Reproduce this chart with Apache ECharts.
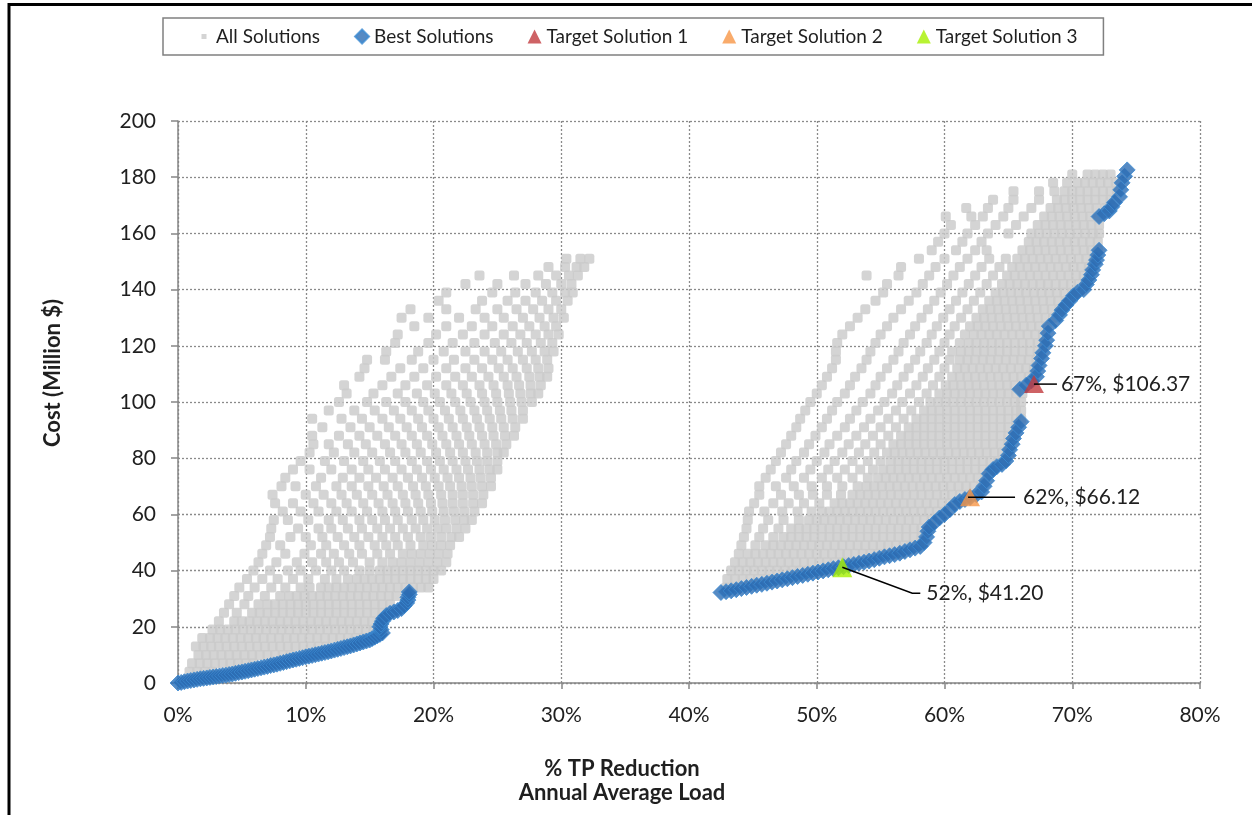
<!DOCTYPE html>
<html>
<head>
<meta charset="utf-8">
<script src="https://cdn.jsdelivr.net/npm/echarts@6/dist/echarts.min.js"></script>
<style>
html,body{margin:0;padding:0;background:#fff;}
#chart{width:1252px;height:815px;}
</style>
</head>
<body>
<div id="chart"></div>
<script>
// ---------------- DATA ----------------
// x axis ticks (% TP reduction) and y axis ticks (cost, million $)
const xTicks = [0, 10, 20, 30, 40, 50, 60, 70, 80];
const yTicks = [0, 20, 40, 60, 80, 100, 120, 140, 160, 180, 200];

// All Solutions, left cluster: each row = [cost, x1, x2, ...] (x in %)
const allSolutionsLeft = [
  [4, 0.9, 1.5, 2.1, 2.7],
  [7, 1.1, 1.7, 2.3, 2.9, 3.5, 4.1, 4.7, 5.3, 5.9],
  [10, 1.6, 2.2, 2.8, 3.4, 4.0, 4.6, 5.2, 5.8, 6.4, 7.0, 7.6, 8.2, 8.8],
  [13, 1.4, 2.0, 2.6, 3.2, 3.8, 4.4, 5.0, 5.6, 6.2, 6.8, 7.4, 8.0, 8.6, 9.2, 9.8, 10.4, 11.0, 11.6],
  [16, 1.9, 2.5, 3.1, 3.7, 4.3, 4.9, 5.5, 6.1, 6.7, 7.3, 7.9, 8.5, 9.1, 9.7, 10.3, 10.9, 11.5, 12.1, 12.7, 13.3, 13.9, 14.5],
  [19, 2.7, 3.3, 3.9, 4.5, 5.1, 5.7, 6.3, 6.9, 7.5, 8.1, 8.7, 9.3, 9.9, 10.5, 11.1, 11.7, 12.3, 12.9, 13.5, 14.1, 14.7, 15.3],
  [22, 3.2, 4.4, 5.0, 5.6, 6.2, 6.8, 7.4, 8.0, 8.6, 9.2, 9.8, 10.4, 11.0, 11.6, 12.2, 12.8, 13.4, 14.0, 14.6, 15.2, 15.8],
  [25, 3.6, 4.6, 5.8, 6.4, 7.0, 7.6, 8.2, 8.8, 9.4, 10.0, 10.6, 11.2, 11.8, 12.4, 13.0, 13.6, 14.2, 14.8, 15.4, 16.0],
  [28, 4.0, 5.2, 6.3, 7.0, 7.6, 8.2, 8.8, 9.4, 10.0, 10.6, 11.2, 11.8, 12.4, 13.0, 13.6, 14.2, 14.8, 15.4, 16.0, 16.6],
  [31, 4.4, 5.5, 6.8, 8.0, 8.7, 9.3, 9.9, 10.5, 11.1, 11.7, 12.3, 12.9, 13.5, 14.1, 14.7, 15.3, 15.9, 16.5, 17.1],
  [34, 4.8, 6.0, 7.3, 8.4, 9.6, 10.3, 11.2, 11.8, 12.4, 13.0, 13.6, 14.2, 14.8, 15.4, 16.0, 16.6, 17.2, 17.8, 18.4, 19.0, 19.6],
  [37, 5.4, 6.6, 7.8, 9.0, 10.2, 11.5, 12.4, 13.3, 14.0, 14.6, 15.2, 15.8, 16.4, 17.0, 17.6, 18.2, 18.8, 19.4, 20.0],
  [40, 5.9, 7.2, 8.6, 9.6, 10.8, 12.0, 13.0, 14.2, 15.0, 15.8, 16.4, 17.0, 17.6, 18.2, 18.8, 19.4, 20.0, 20.6],
  [43, 6.3, 7.7, 9.3, 10.5, 11.6, 12.6, 13.7, 15.0, 16.0, 16.8, 17.5, 18.2, 18.9, 19.6, 20.3, 21.0],
  [46, 6.6, 8.4, 9.9, 11.2, 12.2, 13.4, 14.4, 15.6, 16.6, 17.6, 18.3, 19.0, 19.7, 20.4, 21.1],
  [49, 6.9, 8.0, 10.4, 11.6, 13.0, 14.2, 15.4, 16.3, 17.2, 18.2, 19.2, 19.9, 20.6, 21.3],
  [52, 7.2, 8.8, 10.0, 11.3, 12.5, 13.8, 14.9, 16.0, 17.0, 18.0, 19.0, 19.8, 20.6, 21.4, 22.0],
  [55, 7.3, 9.4, 11.0, 12.0, 13.3, 14.4, 15.6, 16.6, 17.6, 18.6, 19.5, 20.3, 21.0, 21.8, 22.5],
  [58, 7.5, 8.6, 10.2, 11.8, 12.9, 14.2, 15.2, 16.2, 17.2, 18.3, 19.2, 20.1, 20.9, 21.7, 22.4, 23.0],
  [61, 8.2, 9.6, 11.0, 12.4, 13.6, 14.8, 16.0, 17.0, 18.0, 19.0, 19.9, 20.8, 21.6, 22.4, 23.2],
  [64, 7.6, 9.0, 10.6, 12.0, 13.2, 14.5, 15.7, 16.8, 17.8, 18.8, 19.8, 20.7, 21.5, 22.3, 23.1, 23.8],
  [67, 7.4, 10.0, 11.4, 12.8, 14.0, 15.2, 16.4, 17.6, 18.6, 19.6, 20.6, 21.5, 22.3, 23.1, 23.9],
  [70, 8.1, 9.2, 10.8, 12.4, 13.6, 14.9, 16.1, 17.2, 18.4, 19.4, 20.4, 21.3, 22.2, 23.0, 23.8, 24.5],
  [73, 8.4, 11.2, 12.9, 14.2, 15.5, 16.8, 18.0, 19.1, 20.1, 21.1, 22.0, 22.9, 23.7, 24.5],
  [76, 9.0, 10.3, 12.0, 13.6, 14.9, 16.2, 17.5, 18.7, 19.8, 20.8, 21.8, 22.7, 23.6, 24.4, 25.0],
  [79, 9.6, 11.5, 13.0, 14.5, 15.8, 17.0, 18.3, 19.5, 20.5, 21.5, 22.5, 23.4, 24.2, 25.0],
  [82, 10.3, 12.2, 13.8, 15.2, 16.6, 17.8, 19.0, 20.2, 21.3, 22.3, 23.3, 24.2, 25.0, 25.5],
  [85, 10.6, 11.8, 13.3, 14.7, 16.2, 17.5, 18.7, 19.9, 21.0, 22.0, 23.0, 24.0, 24.9, 25.7],
  [88, 10.5, 12.6, 14.2, 15.6, 17.0, 18.3, 19.5, 20.7, 21.8, 22.8, 23.8, 24.7, 25.6, 26.3],
  [91, 11.3, 13.5, 15.0, 16.5, 17.9, 19.1, 20.4, 21.5, 22.6, 23.6, 24.6, 25.5, 26.4],
  [94, 10.5, 12.8, 14.4, 16.0, 17.4, 18.8, 20.0, 21.2, 22.3, 23.4, 24.4, 25.3, 26.2, 27.0],
  [97, 11.8, 13.8, 15.4, 16.9, 18.3, 19.6, 20.9, 22.1, 23.2, 24.2, 25.2, 26.1, 27.0],
  [100, 12.6, 14.8, 16.3, 17.8, 19.2, 20.5, 21.7, 22.9, 24.0, 25.0, 26.0, 26.9, 27.7],
  [103, 13.2, 15.3, 17.2, 18.7, 20.1, 21.4, 22.6, 23.8, 24.9, 25.9, 26.8, 27.6, 28.2],
  [106, 13.0, 16.0, 17.8, 19.5, 21.0, 22.3, 23.6, 24.7, 25.8, 26.7, 27.6, 28.4],
  [109, 14.2, 16.7, 18.5, 20.2, 21.7, 23.0, 24.3, 25.5, 26.5, 27.5, 28.3, 28.9],
  [112, 14.6, 17.4, 19.2, 21.0, 22.5, 23.8, 25.1, 26.2, 27.3, 28.2, 29.0],
  [115, 14.8, 16.2, 18.3, 20.0, 21.6, 23.2, 24.6, 25.8, 27.0, 28.0, 28.9],
  [118, 16.3, 18.8, 20.8, 22.5, 24.0, 25.3, 26.6, 27.7, 28.7, 29.4],
  [121, 17.0, 19.6, 21.5, 23.2, 24.8, 26.1, 27.3, 28.4, 29.3],
  [124, 17.2, 20.2, 22.3, 24.0, 25.5, 26.8, 28.0, 29.0, 29.8],
  [127, 18.5, 21.0, 23.0, 24.6, 26.2, 27.5, 28.7, 29.6],
  [130, 17.5, 19.6, 22.0, 24.0, 25.5, 27.0, 28.3, 29.4, 30.2],
  [133, 18.2, 21.0, 23.3, 25.0, 26.5, 27.8, 29.0, 30.0],
  [136, 20.4, 23.8, 25.8, 27.2, 28.5, 29.6, 30.5],
  [139, 21.0, 24.6, 26.4, 28.0, 29.3, 30.3, 30.9],
  [142, 22.5, 25.0, 27.2, 28.8, 30.0, 30.8],
  [145, 23.6, 26.3, 28.2, 29.6, 30.6, 31.3],
  [148, 29.0, 30.3, 31.2, 31.8],
  [151, 30.4, 31.5, 32.2]
];

// All Solutions, right cluster: each row = [cost, x1, x2, ...]
const allSolutionsRight = [
  [34, 42.9, 43.5],
  [37, 43.0, 43.6, 44.2, 44.8, 45.4, 46.0, 46.6],
  [40, 43.3, 43.9, 44.5, 45.1, 45.7, 46.3, 46.9, 47.5, 48.1, 48.7, 49.3, 49.9, 50.5],
  [43, 43.6, 44.2, 44.8, 45.4, 46.0, 46.6, 47.2, 47.8, 48.4, 49.0, 49.6, 50.2, 50.8, 51.4, 52.0, 52.6, 53.2, 53.8],
  [46, 43.9, 44.6, 45.2, 45.8, 46.4, 47.0, 47.6, 48.2, 48.8, 49.4, 50.0, 50.6, 51.2, 51.8, 52.4, 53.0, 53.6, 54.2, 54.8, 55.4, 56.0, 56.6],
  [49, 44.1, 45.2, 46.0, 46.6, 47.2, 47.8, 48.4, 49.0, 49.6, 50.2, 50.8, 51.4, 52.0, 52.6, 53.2, 53.8, 54.4, 55.0, 55.6, 56.2, 56.8, 57.4, 58.0],
  [52, 44.3, 45.5, 46.6, 47.4, 48.0, 48.6, 49.2, 49.8, 50.4, 51.0, 51.6, 52.2, 52.8, 53.4, 54.0, 54.6, 55.2, 55.8, 56.4, 57.0, 57.6, 58.2],
  [55, 44.5, 45.8, 47.0, 48.0, 48.6, 49.2, 49.8, 50.4, 51.0, 51.6, 52.2, 52.8, 53.4, 54.0, 54.6, 55.2, 55.8, 56.4, 57.0, 57.6, 58.2, 58.8],
  [58, 44.6, 46.2, 47.4, 48.6, 49.4, 50.0, 50.6, 51.2, 51.8, 52.4, 53.0, 53.6, 54.2, 54.8, 55.4, 56.0, 56.6, 57.2, 57.8, 58.4, 59.0],
  [61, 44.7, 45.9, 47.3, 48.5, 49.6, 50.4, 51.0, 51.6, 52.2, 52.8, 53.4, 54.0, 54.6, 55.2, 55.8, 56.4, 57.0, 57.6, 58.2, 58.8, 59.4, 60.0],
  [64, 45.1, 46.6, 47.8, 49.0, 50.2, 51.4, 52.0, 52.6, 53.2, 53.8, 54.4, 55.0, 55.6, 56.2, 56.8, 57.4, 58.0, 58.6, 59.2, 59.8, 60.4, 60.9],
  [67, 45.5, 47.2, 48.6, 49.7, 50.8, 51.9, 52.8, 53.4, 54.0, 54.6, 55.2, 55.8, 56.4, 57.0, 57.6, 58.2, 58.8, 59.4, 60.0, 60.6, 61.2, 61.8, 62.4],
  [70, 45.5, 46.8, 48.2, 49.6, 50.8, 52.0, 53.2, 53.9, 54.5, 55.1, 55.7, 56.3, 56.9, 57.5, 58.1, 58.7, 59.3, 59.9, 60.5, 61.1, 61.7, 62.3, 62.9],
  [73, 46.0, 47.6, 49.0, 50.4, 51.6, 52.8, 54.0, 54.8, 55.4, 56.0, 56.6, 57.2, 57.8, 58.4, 59.0, 59.6, 60.2, 60.8, 61.4, 62.0, 62.6, 63.2],
  [76, 46.4, 48.0, 49.5, 50.9, 52.2, 53.4, 54.4, 55.2, 55.8, 56.4, 57.0, 57.6, 58.2, 58.8, 59.4, 60.0, 60.6, 61.2, 61.8, 62.4, 63.0, 63.6],
  [79, 46.8, 48.4, 50.0, 51.4, 52.8, 54.0, 55.0, 55.8, 56.4, 57.0, 57.6, 58.2, 58.8, 59.4, 60.0, 60.6, 61.2, 61.8, 62.4, 63.0, 63.6, 64.2, 64.8],
  [82, 47.2, 49.0, 50.6, 52.0, 53.3, 54.5, 55.5, 56.1, 56.7, 57.3, 57.9, 58.5, 59.1, 59.7, 60.3, 60.9, 61.5, 62.1, 62.7, 63.3, 63.9, 64.5, 65.1],
  [85, 47.6, 49.4, 51.0, 52.5, 53.8, 55.0, 56.0, 56.6, 57.2, 57.8, 58.4, 59.0, 59.6, 60.2, 60.8, 61.4, 62.0, 62.6, 63.2, 63.8, 64.4, 65.0],
  [88, 48.0, 49.9, 51.6, 53.1, 54.4, 55.6, 56.6, 57.2, 57.8, 58.4, 59.0, 59.6, 60.2, 60.8, 61.4, 62.0, 62.6, 63.2, 63.8, 64.4, 65.0, 65.5],
  [91, 48.4, 50.4, 52.2, 53.7, 55.0, 56.2, 57.2, 57.8, 58.4, 59.0, 59.6, 60.2, 60.8, 61.4, 62.0, 62.6, 63.2, 63.8, 64.4, 65.0, 65.6],
  [94, 48.7, 50.8, 52.6, 54.2, 55.6, 56.8, 57.8, 58.4, 59.0, 59.6, 60.2, 60.8, 61.4, 62.0, 62.6, 63.2, 63.8, 64.4, 65.0, 65.6, 66.0],
  [97, 49.1, 51.2, 53.1, 54.8, 56.2, 57.4, 58.4, 59.0, 59.6, 60.2, 60.8, 61.4, 62.0, 62.6, 63.2, 63.8, 64.4, 65.0, 65.6, 66.0],
  [100, 49.5, 51.6, 53.6, 55.3, 56.7, 58.0, 58.9, 59.5, 60.1, 60.7, 61.3, 61.9, 62.5, 63.1, 63.7, 64.3, 64.9, 65.5, 66.0],
  [103, 50.0, 52.2, 54.2, 55.9, 57.3, 58.6, 59.6, 60.2, 60.8, 61.4, 62.0, 62.6, 63.2, 63.8, 64.4, 65.0, 65.6, 66.1],
  [106, 50.4, 52.6, 54.6, 56.3, 57.8, 59.1, 60.1, 60.7, 61.3, 61.9, 62.5, 63.1, 63.7, 64.3, 64.9, 65.5, 66.1],
  [109, 50.8, 53.0, 55.0, 56.8, 58.3, 59.6, 60.6, 61.2, 61.8, 62.4, 63.0, 63.6, 64.2, 64.8, 65.4, 66.0, 66.6, 67.0],
  [112, 51.2, 53.5, 55.5, 57.2, 58.7, 60.0, 61.0, 61.6, 62.2, 62.8, 63.4, 64.0, 64.6, 65.2, 65.8, 66.4, 67.0],
  [115, 51.5, 53.9, 56.0, 57.7, 59.2, 60.4, 61.2, 61.8, 62.4, 63.0, 63.6, 64.2, 64.8, 65.4, 66.0, 66.6, 67.2],
  [118, 51.5, 54.2, 56.4, 58.1, 59.6, 60.6, 61.3, 61.9, 62.5, 63.1, 63.7, 64.3, 64.9, 65.5, 66.1, 66.7, 67.3],
  [121, 51.6, 54.6, 56.8, 58.6, 60.0, 61.2, 61.9, 62.5, 63.1, 63.7, 64.3, 64.9, 65.5, 66.1, 66.7, 67.3, 67.8],
  [124, 52.0, 55.0, 57.3, 59.0, 60.4, 61.6, 62.3, 62.9, 63.5, 64.1, 64.7, 65.3, 65.9, 66.5, 67.1, 67.7],
  [127, 52.6, 55.5, 57.7, 59.4, 60.8, 62.0, 62.6, 63.2, 63.8, 64.4, 65.0, 65.6, 66.2, 66.8, 67.4, 68.0],
  [130, 53.2, 56.0, 58.2, 59.9, 61.3, 62.5, 63.1, 63.7, 64.3, 64.9, 65.5, 66.1, 66.7, 67.3, 67.9, 68.5],
  [133, 53.8, 56.6, 58.7, 60.4, 61.8, 63.0, 63.6, 64.2, 64.8, 65.4, 66.0, 66.6, 67.2, 67.8, 68.4, 69.0],
  [136, 54.6, 57.2, 59.2, 60.9, 62.3, 63.5, 64.1, 64.7, 65.3, 65.9, 66.5, 67.1, 67.7, 68.3, 68.9, 69.5],
  [139, 55.2, 57.8, 59.7, 61.4, 62.8, 64.0, 64.6, 65.2, 65.8, 66.4, 67.0, 67.6, 68.2, 68.8, 69.4, 70.0],
  [142, 55.5, 58.3, 60.2, 61.9, 63.3, 64.5, 65.1, 65.7, 66.3, 66.9, 67.5, 68.1, 68.7, 69.3, 69.9, 70.5, 71.0],
  [145, 53.9, 56.4, 58.8, 60.7, 62.4, 63.8, 64.9, 65.5, 66.1, 66.7, 67.3, 67.9, 68.5, 69.1, 69.7, 70.3, 70.9],
  [148, 56.6, 59.3, 61.2, 62.9, 64.3, 65.3, 65.9, 66.5, 67.1, 67.7, 68.3, 68.9, 69.5, 70.1, 70.7, 71.3],
  [151, 58.0, 60.0, 61.8, 63.5, 64.8, 65.7, 66.3, 66.9, 67.5, 68.1, 68.7, 69.3, 69.9, 70.5, 71.1, 71.7],
  [154, 59.0, 60.9, 62.4, 63.3, 66.1, 66.7, 67.3, 67.9, 68.5, 69.1, 69.7, 70.3, 70.9, 71.5, 72.0],
  [157, 59.5, 61.4, 62.9, 66.6, 67.2, 67.8, 68.4, 69.0, 69.6, 70.2, 70.8, 71.4, 72.0],
  [160, 60.0, 61.8, 63.4, 65.0, 66.8, 67.4, 68.0, 68.6, 69.2, 69.8, 70.4, 71.0, 71.6, 72.1],
  [163, 60.5, 62.4, 64.0, 65.6, 67.3, 67.9, 68.5, 69.1, 69.7, 70.3, 70.9, 71.5, 72.1],
  [166, 60.1, 62.1, 63.0, 64.6, 66.2, 67.8, 68.4, 69.0, 69.6, 70.2, 70.8, 71.4, 72.0],
  [169, 61.7, 63.4, 65.0, 66.8, 68.3, 68.9, 69.5, 70.1, 70.7, 71.3, 71.9, 72.6],
  [172, 63.8, 65.4, 67.4, 68.8, 69.4, 70.0, 70.6, 71.2, 71.8, 72.4, 73.0],
  [175, 65.4, 67.4, 68.6, 69.4, 70.0, 70.6, 71.2, 71.8, 72.4, 73.0, 73.5],
  [178, 68.5, 69.6, 70.4, 71.0, 71.6, 72.2, 72.8, 73.4],
  [181, 70.0, 71.2, 71.8, 72.4, 73.0]
];

// Best Solutions (Pareto front), [x %, cost]
const bestSolutionsLeft = [
  [0, 0], [0.25, 0.2], [0.5, 0.45], [0.75, 0.7], [1.0, 0.9], [1.25, 1.1], [1.5, 1.3], [1.75, 1.5],
  [2.0, 1.65], [2.25, 1.8], [2.5, 2.0], [2.75, 2.15], [3.0, 2.3], [3.25, 2.5], [3.5, 2.65], [3.75, 2.8],
  [4.0, 3.0], [4.25, 3.2], [4.5, 3.45], [4.75, 3.7], [5.0, 3.9], [5.25, 4.15], [5.5, 4.4], [5.75, 4.65],
  [6.0, 4.9], [6.25, 5.15], [6.5, 5.4], [6.75, 5.65], [7.0, 5.9], [7.25, 6.2], [7.5, 6.45], [7.75, 6.7],
  [8.0, 7.0], [8.25, 7.3], [8.5, 7.6], [8.75, 7.9], [9.0, 8.2], [9.25, 8.45], [9.5, 8.75], [9.75, 9.0],
  [10.0, 9.3], [10.25, 9.55], [10.5, 9.8], [10.75, 10.05], [11.0, 10.3], [11.25, 10.6], [11.5, 10.85],
  [11.75, 11.1], [12.0, 11.4], [12.25, 11.7], [12.5, 12.0], [12.75, 12.3], [13.0, 12.6], [13.25, 12.9],
  [13.5, 13.2], [13.75, 13.55], [14.0, 13.9], [14.25, 14.25], [14.5, 14.6], [14.75, 14.95], [15.0, 15.3],
  [15.2, 15.8], [15.4, 16.3], [15.6, 16.8], [15.8, 17.3], [16.0, 17.8], [15.9, 19.0], [15.8, 20.0],
  [15.9, 21.0], [16.0, 22.0], [16.1, 23.0], [16.3, 24.0], [16.6, 24.8], [16.9, 25.3], [17.2, 25.8],
  [17.5, 26.5], [17.7, 27.5], [17.9, 28.5], [18.0, 29.5], [18.0, 30.5], [18.1, 31.5], [18.1, 32.4]
];
const bestSolutionsRight = [
  [42.5, 32.2], [42.9, 32.5], [43.3, 32.8], [43.7, 33.2], [44.1, 33.6], [44.5, 34.0], [44.9, 34.4],
  [45.3, 34.8], [45.7, 35.1], [46.1, 35.5], [46.5, 35.9], [46.9, 36.3], [47.3, 36.7], [47.7, 37.1],
  [48.1, 37.5], [48.5, 37.9], [48.9, 38.3], [49.3, 38.7], [49.7, 39.1], [50.1, 39.5], [50.5, 39.9],
  [50.9, 40.3], [51.3, 40.7], [51.7, 41.0], [52.1, 41.4], [52.5, 41.8], [52.9, 42.2], [53.3, 42.6],
  [53.7, 43.0], [54.1, 43.4], [54.5, 43.9], [54.9, 44.4], [55.3, 44.9], [55.7, 45.3], [56.1, 45.7],
  [56.5, 46.2], [56.9, 46.8], [57.3, 47.4], [57.7, 48.0], [58.1, 48.6], [58.4, 50.0], [58.6, 52.0],
  [58.7, 54.0], [58.8, 55.5], [59.2, 57.0], [59.6, 58.7], [60.0, 60.0], [60.4, 61.6], [60.8, 63.5],
  [61.2, 64.6], [61.6, 65.3], [62.0, 66.0], [62.5, 67.0], [62.9, 68.0], [63.1, 70.0], [63.3, 72.0],
  [63.5, 74.5], [63.8, 76.0], [64.1, 77.0], [64.5, 77.8], [64.8, 79.0], [65.0, 81.0], [65.1, 83.0],
  [65.3, 85.0], [65.4, 87.0], [65.6, 89.0], [65.8, 91.0], [66.0, 93.0],
  [65.9, 104.5], [66.4, 106.0], [66.8, 107.5], [67.2, 109.0], [67.3, 111.0], [67.4, 113.0],
  [67.6, 115.5], [67.7, 117.5], [67.9, 120.0], [68.0, 122.0], [68.1, 124.5], [68.2, 127.0],
  [68.7, 129.0], [69.0, 131.0], [69.2, 132.7], [69.5, 134.5], [69.8, 136.0], [70.1, 137.8],
  [70.4, 139.0], [70.9, 140.0], [71.1, 141.8], [71.3, 143.4], [71.5, 145.3], [71.6, 147.0],
  [71.8, 149.0], [71.9, 150.5], [72.0, 152.3], [72.1, 154.0],
  [72.1, 166.0], [72.5, 167.0], [72.9, 168.0], [73.1, 169.5], [73.3, 171.0], [73.7, 173.0],
  [73.8, 175.5], [73.9, 178.0], [74.1, 180.3], [74.3, 182.6]
];

// Target solutions [x %, cost]
const targetSolution1 = [[67, 106.37]];
const targetSolution2 = [[62, 66.12]];
const targetSolution3 = [[52, 41.20]];

// ---------------- BUILD ----------------
function rowsToPoints(rows) {
  const out = [];
  rows.forEach(r => { for (let i = 1; i < r.length; i++) out.push([r[i], r[0]]); });
  return out;
}
const allSolutions = rowsToPoints(allSolutionsLeft).concat(rowsToPoints(allSolutionsRight));
const bestSolutions = bestSolutionsLeft.concat(bestSolutionsRight);

const FONT = 'Lato, "Open Sans", sans-serif';
const TXT = '#1f1f1f';
const COL_T1 = '#C23B3F', COL_T2 = '#F79646', COL_T3 = '#A6F000';

const chart = echarts.init(document.getElementById('chart'), null, {renderer: 'canvas'});

const option = {
  animation: false,
  backgroundColor: '#ffffff',
  textStyle: {fontFamily: FONT},
  grid: {left: 178, right: 52, top: 121, bottom: 132, containLabel: false},
  legend: {
    left: 163, top: 18,
    padding: [9, 26, 9, 34],
    itemGap: 34, itemWidth: 14, itemHeight: 14,
    borderColor: '#808080', borderWidth: 1.5,
    textStyle: {fontFamily: FONT, fontSize: 19, color: TXT},
    data: [
      {name: 'All Solutions', icon: 'path://M0,0M14,14M4.5,4.5L9.5,4.5L9.5,9.5L4.5,9.5Z'},
      {name: 'Best Solutions', icon: 'diamond'},
      {name: 'Target Solution 1', icon: 'triangle'},
      {name: 'Target Solution 2', icon: 'triangle'},
      {name: 'Target Solution 3', icon: 'triangle'}
    ]
  },
  xAxis: {
    type: 'value', min: xTicks[0], max: xTicks[xTicks.length - 1], interval: 10,
    axisLine: {show: true, lineStyle: {color: '#868686', width: 1.5}},
    axisTick: {show: true, inside: false, length: 6, lineStyle: {color: '#868686', width: 1.5}},
    axisLabel: {formatter: '{value}%', fontFamily: FONT, fontSize: 21, color: TXT, margin: 22},
    splitLine: {show: true, lineStyle: {color: '#8a8a8a', width: 1.3, type: [2, 2]}}
  },
  yAxis: {
    type: 'value', min: yTicks[0], max: yTicks[yTicks.length - 1], interval: 20,
    axisLine: {show: true, lineStyle: {color: '#868686', width: 1.5}},
    axisTick: {show: true, inside: false, length: 7, lineStyle: {color: '#868686', width: 1.5}},
    axisLabel: {fontFamily: FONT, fontSize: 21, color: TXT, margin: 22},
    splitLine: {show: true, lineStyle: {color: '#8a8a8a', width: 1.3, type: [2, 2]}}
  },
  series: [
    {
      name: 'All Solutions', type: 'scatter', data: allSolutions,
      symbol: 'roundRect', symbolSize: 10,
      itemStyle: {color: '#C9C9C9'},
      emphasis: {disabled: true}, z: 2
    },
    {
      name: 'Best Solutions', type: 'scatter', data: bestSolutions,
      symbol: 'diamond', symbolSize: 16,
      itemStyle: {color: '#2C6DB4', borderColor: '#3C8BD2', borderWidth: 1},
      emphasis: {disabled: true}, z: 3
    },
    {
      name: 'Target Solution 1', type: 'scatter', data: targetSolution1,
      symbol: 'triangle', symbolSize: [20, 18],
      itemStyle: {color: COL_T1}, emphasis: {disabled: true}, z: 4
    },
    {
      name: 'Target Solution 2', type: 'scatter', data: targetSolution2,
      symbol: 'triangle', symbolSize: [20, 18],
      itemStyle: {color: COL_T2}, emphasis: {disabled: true}, z: 4
    },
    {
      name: 'Target Solution 3', type: 'scatter', data: targetSolution3,
      symbol: 'triangle', symbolSize: [20, 20],
      itemStyle: {color: COL_T3}, emphasis: {disabled: true}, z: 4
    }
  ]
};
chart.setOption(option);

// ---------- annotations / titles placed through the chart's own scales ----------
function labelText(p) { return p[0] + '%, $' + p[1].toFixed(2); }
const p1 = chart.convertToPixel({gridIndex: 0}, targetSolution1[0]);
const p2 = chart.convertToPixel({gridIndex: 0}, targetSolution2[0]);
const p3 = chart.convertToPixel({gridIndex: 0}, targetSolution3[0]);
const annStyle = {font: '21px ' + FONT, fill: TXT, verticalAlign: 'middle', align: 'left'};
const lineStyle = {stroke: '#000', lineWidth: 1.5};

chart.setOption({
  graphic: [
    // chart frame (top and left edges)
    {type: 'line', silent: true, shape: {x1: 8, y1: 4.5, x2: 1252, y2: 4.5}, style: {stroke: '#000', lineWidth: 3}, z: 100},
    {type: 'line', silent: true, shape: {x1: 9, y1: 3, x2: 9, y2: 815}, style: {stroke: '#000', lineWidth: 3}, z: 100},
    // axis titles
    {type: 'text', silent: true, x: 53, y: 373, rotation: Math.PI / 2,
     style: {text: 'Cost (Million $)', font: 'bold 22px ' + FONT, fill: TXT, align: 'center', verticalAlign: 'middle'}, z: 100},
    {type: 'text', silent: true, x: 622, y: 781,
     style: {text: '% TP Reduction\nAnnual Average Load', font: 'bold 22px ' + FONT, fill: TXT, align: 'center', verticalAlign: 'middle', lineHeight: 24}, z: 100},
    // target 1
    {type: 'line', silent: true, shape: {x1: p1[0], y1: p1[1], x2: p1[0] + 23, y2: p1[1]}, style: lineStyle, z: 100},
    {type: 'text', silent: true, x: p1[0] + 27, y: p1[1], style: Object.assign({text: labelText(targetSolution1[0])}, annStyle), z: 100},
    // target 2
    {type: 'line', silent: true, shape: {x1: p2[0] - 2, y1: p2[1], x2: p2[0] + 45, y2: p2[1]}, style: lineStyle, z: 100},
    {type: 'text', silent: true, x: p2[0] + 53, y: p2[1], style: Object.assign({text: labelText(targetSolution2[0])}, annStyle), z: 100},
    // target 3
    {type: 'polyline', silent: true, shape: {points: [[p3[0], p3[1]], [p3[0] + 70, p3[1] + 26], [p3[0] + 78, p3[1] + 26]]}, style: Object.assign({fill: null}, lineStyle), z: 100},
    {type: 'text', silent: true, x: p3[0] + 84, y: p3[1] + 26, style: Object.assign({text: labelText(targetSolution3[0])}, annStyle), z: 100}
  ]
});
</script>
</body>
</html>
